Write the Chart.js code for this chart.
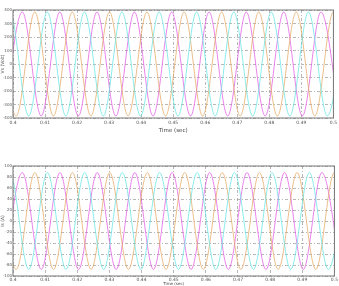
<!DOCTYPE html>
<html>
<head>
<meta charset="utf-8">
<script src="https://cdn.jsdelivr.net/npm/chart.js@4.4.1/dist/chart.umd.min.js"></script>
<style>
  html, body { margin: 0; padding: 0; background: #fff; }
  .box { position: absolute; left: 0; width: 339px; }
</style>
</head>
<body>
<div class="box" style="top:0;height:134px"><canvas id="top"></canvas></div>
<div class="box" style="top:146px;height:140px"><canvas id="bottom"></canvas></div>
<script>
// extremes (peak / trough) of each phase
const tMag = [0.3971, 0.4029, 0.4088, 0.4146, 0.4204, 0.4262, 0.4321, 0.4379, 0.4437, 0.4495,
              0.4554, 0.4612, 0.4670, 0.4728, 0.4787, 0.4845, 0.4903, 0.4961, 0.5020]
const tOra = [0.3951, 0.4010, 0.4068, 0.4126, 0.4185, 0.4243, 0.4301, 0.4359, 0.4418, 0.4476,
              0.4534, 0.4592, 0.4651, 0.4709, 0.4767, 0.4825, 0.4884, 0.4942, 0.5000, 0.5058]
const tCya = [0.3932, 0.3990, 0.4049, 0.4107, 0.4165, 0.4223, 0.4282, 0.4340, 0.4398, 0.4456,
              0.4515, 0.4573, 0.4631, 0.4689, 0.4748, 0.4806, 0.4864, 0.4922, 0.4981, 0.5039]

// voltage (top)
const vMag = [-385, 385, -385, 385, -385, 385, -385, 385, -385, 385, -385, 385, -385, 385, -385, 385, -385, 385, -385]
const vOra = [385, -385, 385, -385, 385, -385, 385, -385, 385, -385, 385, -385, 385, -385, 385, -385, 385, -385, 385, -385]
const vCya = [-385, 385, -385, 385, -385, 385, -385, 385, -385, 385, -385, 385, -385, 385, -385, 385, -385, 385, -385, 385]

// current (bottom)
const iMag = [-88, 88, -88, 88, -88, 88, -88, 88, -88, 88, -88, 88, -88, 88, -88, 88, -88, 88, -88]
const iOra = [88, -88, 88, -88, 88, -88, 88, -88, 88, -88, 88, -88, 88, -88, 88, -88, 88, -88, 88, -88]
const iCya = [-88, 88, -88, 88, -88, 88, -88, 88, -88, 88, -88, 88, -88, 88, -88, 88, -88, 88, -88, 88]

const xTickLabels = ['0.4', '0.41', '0.42', '0.43', '0.44', '0.45', '0.46', '0.47', '0.48', '0.49', '0.5']
const vTickLabels = ['-400', '-300', '-200', '-100', '0', '100', '200', '300', '400']
const iTickLabels = ['-100', '-80', '-60', '-40', '-20', '0', '20', '40', '60', '80', '100']

const colors = {mag: 'rgba(225,90,225,0.75)', ora: 'rgba(228,168,100,0.75)', cya: 'rgba(100,228,228,0.75)'}

const frame = {
    id: 'frame',
    afterDraw(chart) {
        const {ctx, chartArea: a} = chart
        ctx.save()
        ctx.strokeStyle = '#777'
        ctx.lineWidth = 1
        ctx.strokeRect(a.left, a.top, a.right - a.left, a.bottom - a.top)
        ctx.restore()
    }
}

const series = (ts, vs, color) => ({
    data: ts.map((t, i) => ({x: t, y: vs[i]})),
    borderColor: color,
    borderWidth: 1,
    pointRadius: 0,
    cubicInterpolationMode: 'monotone',
    fill: false
})

function makeChart(id, datasets, yMin, yMax, yStep, yLabels, yTitle, opts) {
    const grid = {color: '#999', lineWidth: 0.7, drawTicks: false}
    new Chart(document.getElementById(id), {
        type: 'line',
        plugins: [frame],
        data: {datasets},
        options: {
            animation: false,
            responsive: true,
            maintainAspectRatio: false,
            layout: {padding: {top: opts.padTop, right: 2, left: 0, bottom: 0}},
            plugins: {legend: {display: false}, tooltip: {enabled: false}},
            scales: {
                x: {
                    type: 'linear', min: 0.4, max: 0.5,
                    afterFit: s => { s.height = opts.xHeight },
                    ticks: {
                        stepSize: 0.01, padding: opts.xPad, color: '#555', maxRotation: 0, autoSkip: false,
                        font: {size: 4.5, family: 'DejaVu Sans'},
                        callback: (v, i) => xTickLabels[i]
                    },
                    grid,
                    border: {display: false, dash: [3, 2, 1, 2]},
                    title: {display: true, text: 'Time (sec)', color: '#444', padding: 0,
                            font: {size: opts.titleSize, family: 'DejaVu Sans'}}
                },
                y: {
                    min: yMin, max: yMax,
                    afterFit: s => { s.width = 13 },
                    ticks: {
                        stepSize: yStep, padding: 1, color: '#555',
                        font: {size: 4, family: 'DejaVu Sans'},
                        callback: (v, i) => yLabels[i]
                    },
                    grid,
                    border: {display: false, dash: [3, 2, 1, 2]},
                    title: {display: true, text: yTitle, color: '#555', padding: 0,
                            font: {size: 4.5, family: 'DejaVu Sans'}}
                }
            }
        }
    })
}

makeChart('top', [
    series(tCya, vCya, colors.cya),
    series(tOra, vOra, colors.ora),
    series(tMag, vMag, colors.mag)
], -400, 400, 100, vTickLabels, 'Vs (Volt)', {padTop: 10, xHeight: 16, titleSize: 5.5, xPad: 2})

makeChart('bottom', [
    series(tCya, iCya, colors.cya),
    series(tOra, iOra, colors.ora),
    series(tMag, iMag, colors.mag)
], -100, 100, 20, iTickLabels, 'Is (A)', {padTop: 20, xHeight: 10, titleSize: 4, xPad: 1})
</script>
</body>
</html>
